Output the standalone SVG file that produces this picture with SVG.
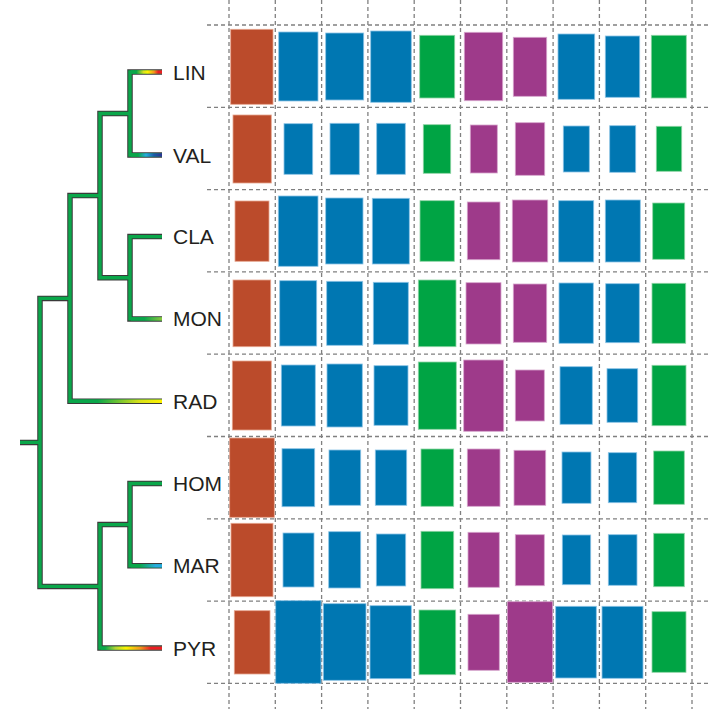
<svg xmlns="http://www.w3.org/2000/svg" width="709" height="709" viewBox="0 0 709 709">
<style>
.grid line{stroke:#808080;stroke-width:1.3;stroke-dasharray:4 3;fill:none}
.br{fill:#bb4b2b;stroke:#e6a58f;stroke-width:0.8}
.bl{fill:#0077b2;stroke:#8cc4e6;stroke-width:0.8}
.gr{fill:#00a444;stroke:#8fd4a6;stroke-width:0.8}
.pu{fill:#9e3a8a;stroke:#d6a6cc;stroke-width:0.8}
.lab{font-family:"Liberation Sans",Arial,sans-serif;font-size:21px;fill:#231f20}
.out{fill:none;stroke:#3a3a3a;stroke-width:5.5;stroke-linejoin:miter;stroke-linecap:butt}
.inn{fill:none;stroke:#0aa74a;stroke-width:3.4;stroke-linejoin:miter;stroke-linecap:butt}
.tip{fill:none;stroke-width:3.4;stroke-linecap:butt}
</style>
<defs>
<linearGradient id="gLIN" gradientUnits="userSpaceOnUse" x1="130" y1="0" x2="162" y2="0">
<stop offset="0" stop-color="#0aa74a"/><stop offset="0.2" stop-color="#0aa74a"/><stop offset="0.42" stop-color="#d8e021"/><stop offset="0.55" stop-color="#fff200"/><stop offset="0.75" stop-color="#f7941d"/><stop offset="0.88" stop-color="#ed1c24"/><stop offset="1" stop-color="#ed1c24"/>
</linearGradient>
<linearGradient id="gVAL" gradientUnits="userSpaceOnUse" x1="130" y1="0" x2="162" y2="0">
<stop offset="0" stop-color="#0aa74a"/><stop offset="0.25" stop-color="#0aa74a"/><stop offset="0.5" stop-color="#27aae1"/><stop offset="0.75" stop-color="#1c5aa8"/><stop offset="1" stop-color="#2e3192"/>
</linearGradient>
<linearGradient id="gMON" gradientUnits="userSpaceOnUse" x1="130" y1="0" x2="162" y2="0">
<stop offset="0" stop-color="#0aa74a"/><stop offset="0.45" stop-color="#0aa74a"/><stop offset="1" stop-color="#8dc63f"/>
</linearGradient>
<linearGradient id="gRAD" gradientUnits="userSpaceOnUse" x1="70" y1="0" x2="162" y2="0">
<stop offset="0" stop-color="#0aa74a"/><stop offset="0.3" stop-color="#0aa74a"/><stop offset="0.75" stop-color="#d6e019"/><stop offset="1" stop-color="#fff200"/>
</linearGradient>
<linearGradient id="gMAR" gradientUnits="userSpaceOnUse" x1="130" y1="0" x2="162" y2="0">
<stop offset="0" stop-color="#0aa74a"/><stop offset="0.3" stop-color="#0aa74a"/><stop offset="0.8" stop-color="#27aae1"/><stop offset="1" stop-color="#27aae1"/>
</linearGradient>
<linearGradient id="gPYR" gradientUnits="userSpaceOnUse" x1="100" y1="0" x2="162" y2="0">
<stop offset="0" stop-color="#0aa74a"/><stop offset="0.08" stop-color="#0aa74a"/><stop offset="0.25" stop-color="#b5d334"/><stop offset="0.42" stop-color="#fff200"/><stop offset="0.65" stop-color="#f7941d"/><stop offset="0.82" stop-color="#ed1c24"/><stop offset="1" stop-color="#ed1c24"/>
</linearGradient>
</defs>
<rect width="709" height="709" fill="#ffffff"/>
<g class="grid" id="grid">
<line x1="229" y1="0" x2="229" y2="709"/>
<line x1="275.3" y1="0" x2="275.3" y2="709"/>
<line x1="321.6" y1="0" x2="321.6" y2="709"/>
<line x1="367.9" y1="0" x2="367.9" y2="709"/>
<line x1="414.2" y1="0" x2="414.2" y2="709"/>
<line x1="460.5" y1="0" x2="460.5" y2="709"/>
<line x1="506.8" y1="0" x2="506.8" y2="709"/>
<line x1="553.1" y1="0" x2="553.1" y2="709"/>
<line x1="599.4" y1="0" x2="599.4" y2="709"/>
<line x1="645.7" y1="0" x2="645.7" y2="709"/>
<line x1="692" y1="0" x2="692" y2="709"/>
<line x1="207" y1="25" x2="709" y2="25"/>
<line x1="207" y1="107.3" x2="709" y2="107.3"/>
<line x1="207" y1="189.6" x2="709" y2="189.6"/>
<line x1="207" y1="271.9" x2="709" y2="271.9"/>
<line x1="207" y1="354.2" x2="709" y2="354.2"/>
<line x1="207" y1="436.5" x2="709" y2="436.5"/>
<line x1="207" y1="518.8" x2="709" y2="518.8"/>
<line x1="207" y1="601.1" x2="709" y2="601.1"/>
<line x1="207" y1="683.4" x2="709" y2="683.4"/>
</g>
<g id="tree">
<path class="out" d="M162,72 H130 V155 H162 M162,236.6 H130 V318.9 H162 M130,113.5 H100 V277.8 H130 M100,195.6 H70 V401.2 H162 M70,298.4 H40 V586.4 H100 M162,483.5 H130 V565.8 H162 M130,524.6 H100 V648.1 H162 M40,442.4 H20"/>
<path class="inn" d="M162,72 H130 V155 H162 M162,236.6 H130 V318.9 H162 M130,113.5 H100 V277.8 H130 M100,195.6 H70 V401.2 H162 M70,298.4 H40 V586.4 H100 M162,483.5 H130 V565.8 H162 M130,524.6 H100 V648.1 H162 M40,442.4 H20"/>
<line class="tip" x1="131" y1="72" x2="162" y2="72" stroke="url(#gLIN)"/>
<line class="tip" x1="131" y1="155" x2="162" y2="155" stroke="url(#gVAL)"/>
<line class="tip" x1="131" y1="318.9" x2="162" y2="318.9" stroke="url(#gMON)"/>
<line class="tip" x1="71" y1="401.2" x2="162" y2="401.2" stroke="url(#gRAD)"/>
<line class="tip" x1="131" y1="565.8" x2="162" y2="565.8" stroke="url(#gMAR)"/>
<line class="tip" x1="101" y1="648.1" x2="162" y2="648.1" stroke="url(#gPYR)"/>
</g>
<g id="row-LIN">
<text class="lab" x="173" y="79.5">LIN</text>
<rect class="br" x="230.7" y="29.3" width="42.3" height="75"/>
<rect class="bl" x="278.7" y="32" width="39.3" height="69"/>
<rect class="bl" x="325.7" y="33" width="38" height="67"/>
<rect class="bl" x="370.7" y="31" width="40.6" height="71.3"/>
<rect class="gr" x="419.7" y="35.3" width="35" height="62.7"/>
<rect class="pu" x="464.3" y="32.3" width="38.4" height="68.4"/>
<rect class="pu" x="513.3" y="37.3" width="33.4" height="59"/>
<rect class="bl" x="558" y="34" width="36.7" height="65.3"/>
<rect class="bl" x="605.3" y="36" width="34.4" height="61.3"/>
<rect class="gr" x="651.3" y="35.3" width="35" height="62.7"/>
</g>
<g id="row-VAL">
<text class="lab" x="173" y="162.5">VAL</text>
<rect class="br" x="233" y="115" width="38.3" height="68"/>
<rect class="bl" x="284" y="123.7" width="28.7" height="50.6"/>
<rect class="bl" x="330" y="123.3" width="29.3" height="51.4"/>
<rect class="bl" x="376.7" y="123.3" width="28.6" height="51"/>
<rect class="gr" x="423.3" y="124.7" width="27.4" height="48.6"/>
<rect class="pu" x="470.3" y="125" width="27" height="48"/>
<rect class="pu" x="515.3" y="122.7" width="29.4" height="52.6"/>
<rect class="bl" x="563.3" y="126" width="26" height="46"/>
<rect class="bl" x="609.7" y="125.7" width="26" height="46.6"/>
<rect class="gr" x="656.3" y="126.3" width="25.4" height="45"/>
</g>
<g id="row-CLA">
<text class="lab" x="173" y="244.1">CLA</text>
<rect class="br" x="235" y="201" width="34" height="60.3"/>
<rect class="bl" x="278.3" y="196" width="39.7" height="70.3"/>
<rect class="bl" x="325.7" y="198" width="37.3" height="66"/>
<rect class="bl" x="372.3" y="198.3" width="37" height="65.7"/>
<rect class="gr" x="420" y="200.7" width="34.3" height="60.6"/>
<rect class="pu" x="467.3" y="202" width="32.7" height="57.7"/>
<rect class="pu" x="512.3" y="200" width="35.4" height="62"/>
<rect class="bl" x="558.7" y="200.7" width="35" height="61.3"/>
<rect class="bl" x="605.3" y="200" width="35" height="62"/>
<rect class="gr" x="652.7" y="203" width="32" height="56.3"/>
</g>
<g id="row-MON">
<text class="lab" x="173" y="326.4">MON</text>
<rect class="br" x="233" y="280" width="37.7" height="66.7"/>
<rect class="bl" x="279.7" y="280.7" width="37" height="65.3"/>
<rect class="bl" x="326.7" y="281.3" width="36" height="64"/>
<rect class="bl" x="373.3" y="282.3" width="35" height="62"/>
<rect class="gr" x="418.3" y="280" width="37.7" height="66.7"/>
<rect class="pu" x="466" y="282.7" width="35" height="61.3"/>
<rect class="pu" x="513.3" y="284" width="33.4" height="58.3"/>
<rect class="bl" x="559" y="283" width="34.3" height="60.3"/>
<rect class="bl" x="605.7" y="283.7" width="33.6" height="59"/>
<rect class="gr" x="652" y="283.3" width="33.7" height="60"/>
</g>
<g id="row-RAD">
<text class="lab" x="173" y="408.7">RAD</text>
<rect class="br" x="232.3" y="361" width="39" height="69"/>
<rect class="bl" x="281.3" y="365" width="34" height="61"/>
<rect class="bl" x="327" y="364" width="35.3" height="63"/>
<rect class="bl" x="374" y="365.7" width="34" height="59.6"/>
<rect class="gr" x="418.3" y="362" width="38" height="67.3"/>
<rect class="pu" x="463.7" y="360" width="40" height="71.3"/>
<rect class="pu" x="515.3" y="370" width="29" height="51"/>
<rect class="bl" x="560" y="366.7" width="32.3" height="57.6"/>
<rect class="bl" x="607" y="368.7" width="30.7" height="53.6"/>
<rect class="gr" x="652" y="365.3" width="34" height="60.4"/>
</g>
<g id="row-HOM">
<text class="lab" x="173" y="491">HOM</text>
<rect class="br" x="229.7" y="438" width="44.6" height="79.3"/>
<rect class="bl" x="282" y="448.7" width="32.7" height="58"/>
<rect class="bl" x="329" y="450" width="31.7" height="55.3"/>
<rect class="bl" x="375.3" y="450" width="31.4" height="55.3"/>
<rect class="gr" x="421" y="449" width="32.7" height="57.3"/>
<rect class="pu" x="467.3" y="449" width="32.7" height="57.3"/>
<rect class="pu" x="514" y="450.3" width="31.7" height="55"/>
<rect class="bl" x="562" y="452" width="29" height="51.3"/>
<rect class="bl" x="608.3" y="452.7" width="28.4" height="50"/>
<rect class="gr" x="653.7" y="451" width="30.6" height="53.3"/>
</g>
<g id="row-MAR">
<text class="lab" x="173" y="573.3">MAR</text>
<rect class="br" x="231" y="523.3" width="42" height="73.4"/>
<rect class="bl" x="283" y="533" width="31" height="54"/>
<rect class="bl" x="328.7" y="531.7" width="32" height="56.3"/>
<rect class="bl" x="376.3" y="534" width="29.4" height="52"/>
<rect class="gr" x="421" y="531.3" width="32.7" height="57.4"/>
<rect class="pu" x="468" y="532.3" width="31.3" height="55"/>
<rect class="pu" x="515.3" y="534.7" width="29" height="51"/>
<rect class="bl" x="562.3" y="535" width="28.4" height="49.7"/>
<rect class="bl" x="608.3" y="534.7" width="28.7" height="50.6"/>
<rect class="gr" x="653.7" y="533.3" width="30.6" height="53.4"/>
</g>
<g id="row-PYR">
<text class="lab" x="173" y="655.6">PYR</text>
<rect class="br" x="234.3" y="610.7" width="35.7" height="63.3"/>
<rect class="bl" x="275.7" y="600.7" width="45.3" height="82.6"/>
<rect class="bl" x="323.3" y="603.7" width="42.7" height="76.6"/>
<rect class="bl" x="370" y="605.7" width="41.3" height="73"/>
<rect class="gr" x="419" y="610" width="36.7" height="64.7"/>
<rect class="pu" x="468" y="614.3" width="31.3" height="56"/>
<rect class="pu" x="507.3" y="601.7" width="45.4" height="80.6"/>
<rect class="bl" x="555.7" y="606.3" width="40.6" height="71.7"/>
<rect class="bl" x="602" y="606.3" width="41" height="72"/>
<rect class="gr" x="652" y="611.7" width="34" height="60.6"/>
</g>
</svg>
